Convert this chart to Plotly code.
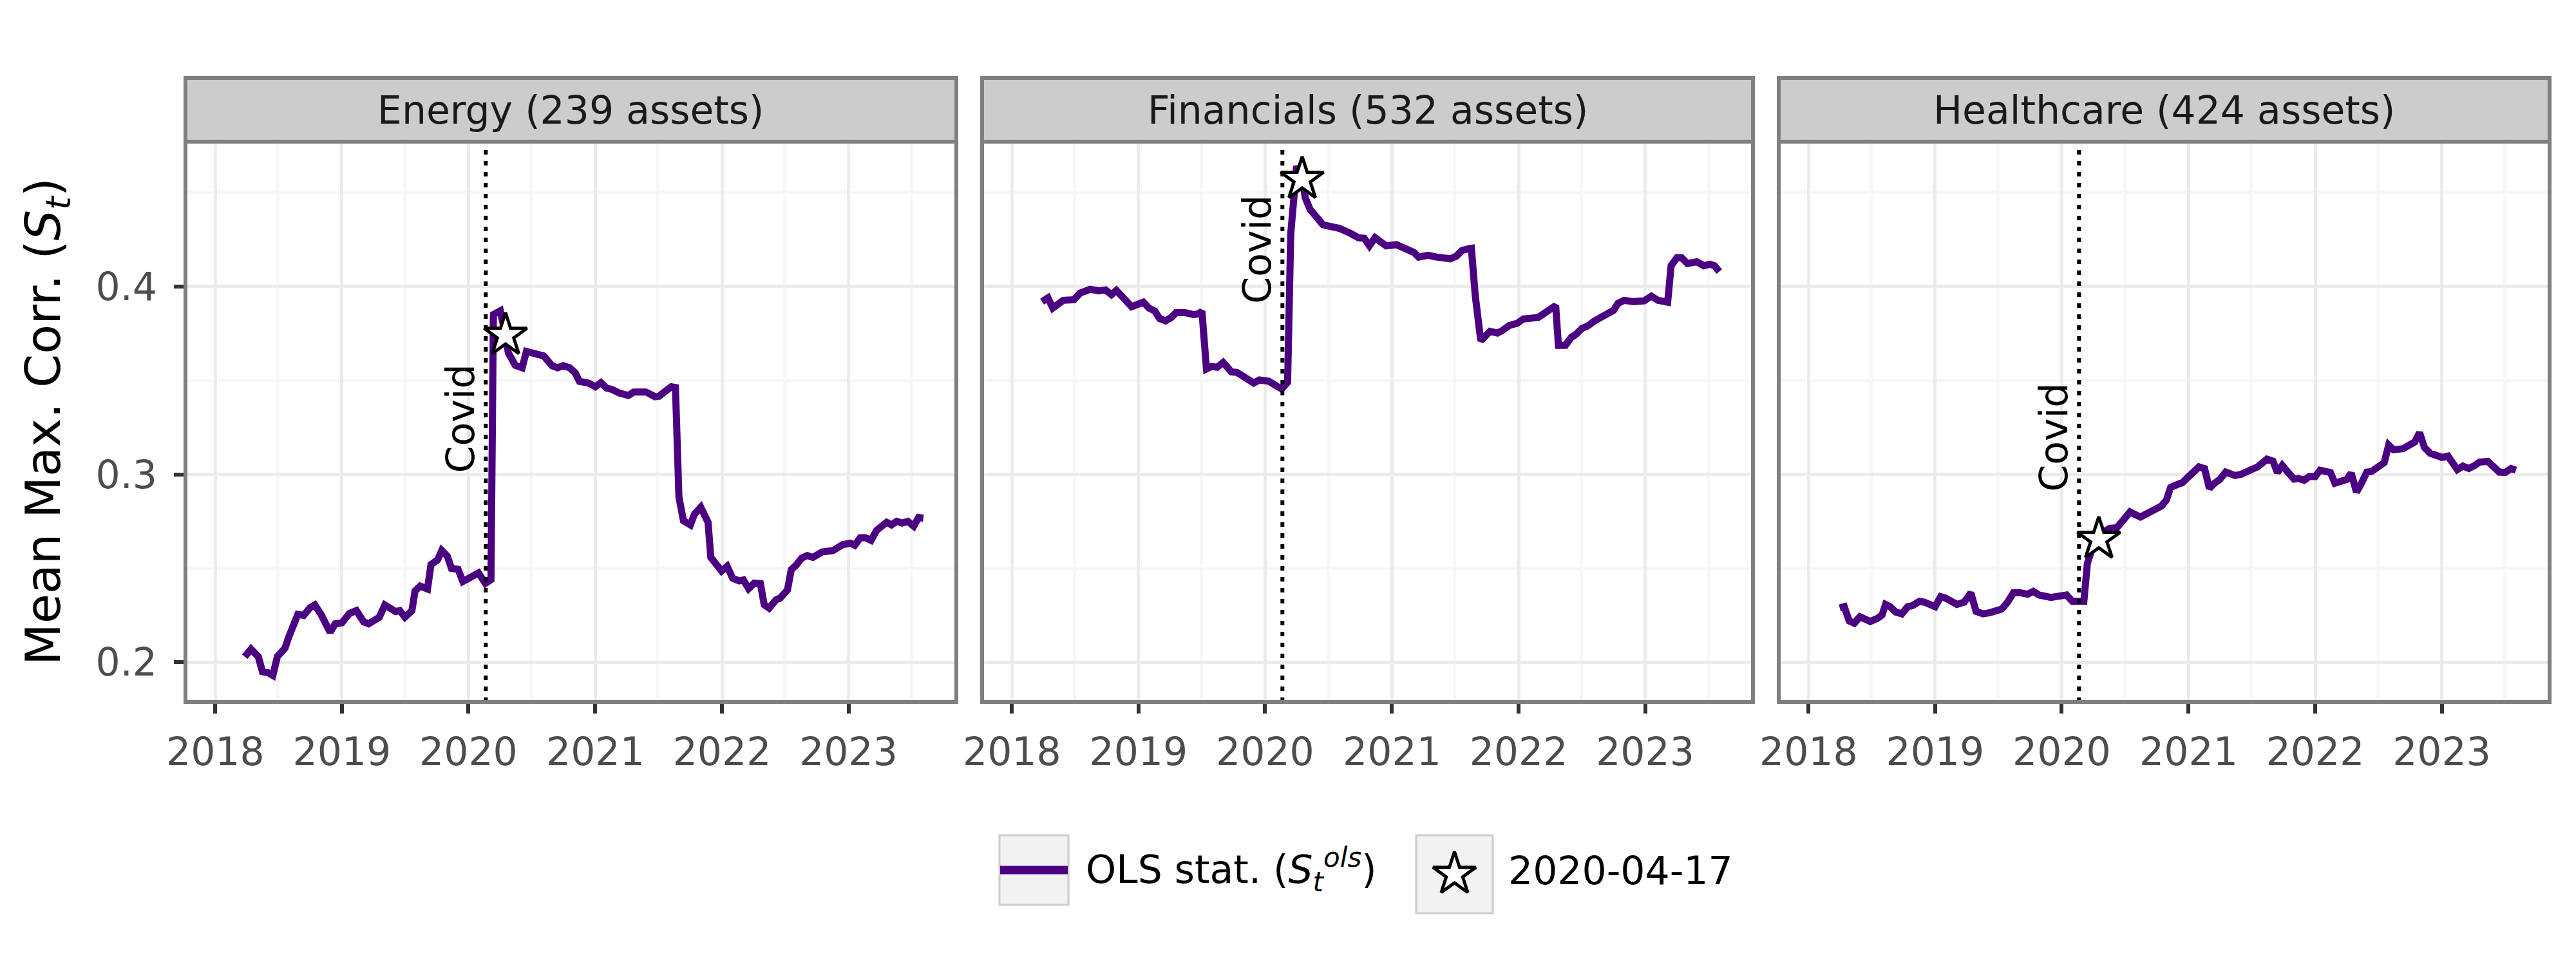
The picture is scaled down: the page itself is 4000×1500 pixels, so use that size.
import plotly.graph_objects as go

# ---------------- data ----------------
energy_dates = ["2018-03-27","2018-04-14","2018-05-05","2018-05-17","2018-06-02","2018-06-16","2018-06-29","2018-07-09","2018-07-21","2018-07-31",
"2018-08-27","2018-09-13","2018-10-01","2018-10-15","2018-11-02","2018-11-28","2018-12-13","2019-01-01","2019-01-23","2019-02-12",
"2019-03-05","2019-03-19","2019-04-19","2019-05-05","2019-06-05","2019-06-17","2019-07-02","2019-07-22","2019-07-31","2019-08-15",
"2019-09-05","2019-09-15","2019-10-04","2019-10-16","2019-11-01","2019-11-13","2019-12-02","2019-12-16","2020-01-06","2020-01-30",
"2020-02-19","2020-03-06","2020-03-13","2020-04-02","2020-04-17","2020-04-25","2020-05-15","2020-06-04","2020-06-16","2020-07-05",
"2020-07-25","2020-08-05","2020-08-29","2020-09-14","2020-09-30","2020-10-19","2020-11-04","2020-11-16","2020-12-13","2021-01-01",
"2021-01-17","2021-02-02","2021-02-18","2021-03-10","2021-04-06","2021-04-22","2021-05-11","2021-05-27","2021-06-22","2021-07-04",
"2021-07-24","2021-08-08","2021-08-20","2021-08-30","2021-09-12","2021-10-02","2021-10-14","2021-11-01","2021-11-22","2021-11-30",
"2021-12-31","2022-01-16","2022-02-01","2022-02-20","2022-03-04","2022-03-19","2022-04-04","2022-04-22","2022-05-03","2022-05-17",
"2022-06-06","2022-06-18","2022-07-09","2022-07-20","2022-08-02","2022-08-19","2022-09-04","2022-09-20","2022-10-17","2022-11-05",
"2022-11-17","2022-12-15","2023-01-07","2023-01-19","2023-02-04","2023-02-19","2023-03-07","2023-03-23","2023-04-03","2023-04-21",
"2023-05-05","2023-05-20","2023-06-05","2023-06-21","2023-07-08","2023-07-22","2023-08-05"]
energy_vals = [0.203,0.207,0.203,0.195,0.1945,0.193,0.203,0.205,0.2075,0.213,
0.2255,0.225,0.229,0.2305,0.2255,0.216,0.2205,0.221,0.226,0.2275,
0.2215,0.2205,0.224,0.2305,0.227,0.2275,0.224,0.2275,0.238,0.2405,
0.239,0.252,0.2545,0.2595,0.2565,0.25,0.2495,0.243,0.2455,0.2475,
0.242,0.244,0.385,0.387,0.374,0.3647,0.358,0.3567,0.3654,0.3647,
0.363,0.363,0.3578,0.3567,0.3578,0.3567,0.354,0.3495,0.3485,0.3466,
0.3488,0.3459,0.3452,0.3433,0.342,0.3438,0.3438,0.3438,0.3413,0.3416,
0.3445,0.3466,0.3462,0.288,0.2753,0.2731,0.2789,0.2825,0.2745,0.2558,
0.2486,0.2511,0.2447,0.2433,0.2438,0.2392,0.2421,0.2418,0.2306,0.2288,
0.2332,0.2342,0.2385,0.2493,0.2515,0.2554,0.2568,0.2558,0.2587,0.2594,
0.2594,0.2626,0.2634,0.2623,0.2663,0.2663,0.2649,0.2702,0.2721,0.2745,
0.2731,0.275,0.2741,0.275,0.2724,0.277,0.2767]

fin_dates = ["2018-03-29","2018-04-15","2018-04-29","2018-05-29","2018-06-29","2018-07-16","2018-08-15","2018-09-08","2018-09-28","2018-10-15",
"2018-10-29","2018-11-15","2018-12-12","2019-01-15","2019-01-31","2019-02-17","2019-03-03","2019-03-20","2019-04-06","2019-04-19",
"2019-05-16","2019-06-09","2019-06-23","2019-07-03","2019-07-16","2019-07-30","2019-08-16","2019-09-02","2019-09-26","2019-10-12",
"2019-11-08","2019-11-29","2019-12-16","2020-01-12","2020-02-05","2020-02-18","2020-03-06","2020-03-15","2020-04-01","2020-04-17",
"2020-04-26","2020-05-10","2020-05-27","2020-06-16","2020-07-10","2020-08-02","2020-09-02","2020-09-26","2020-10-13","2020-10-28",
"2020-11-13","2020-11-28","2020-12-15","2021-01-14","2021-01-31","2021-02-17","2021-03-05","2021-03-19","2021-04-15","2021-05-09",
"2021-06-05","2021-06-18","2021-07-05","2021-07-22","2021-08-11","2021-08-18","2021-08-29","2021-09-14","2021-10-11","2021-11-01",
"2021-11-14","2021-12-05","2021-12-28","2022-01-15","2022-02-27","2022-03-16","2022-04-02","2022-04-18","2022-04-26","2022-05-16",
"2022-06-02","2022-06-15","2022-07-03","2022-07-19","2022-08-06","2022-08-22","2022-08-29","2022-09-15","2022-10-02","2022-10-15",
"2022-11-01","2022-11-29","2022-12-29","2023-01-19","2023-02-07","2023-03-07","2023-03-17","2023-04-03","2023-04-16","2023-05-03",
"2023-05-30","2023-06-19","2023-07-07","2023-07-20","2023-08-03"]
fin_vals = [0.3919,0.3939,0.3885,0.3926,0.3929,0.3964,0.3985,0.3976,0.3981,0.3956,
0.3979,0.3941,0.3892,0.3916,0.3885,0.3869,0.3829,0.3817,0.3835,0.386,
0.386,0.385,0.3854,0.3867,0.3561,0.3574,0.357,0.3595,0.3545,0.3542,
0.3511,0.3486,0.3502,0.3495,0.3468,0.3455,0.349,0.4278,0.464,0.457,
0.4471,0.4409,0.4372,0.4328,0.4318,0.4309,0.4284,0.4259,0.4256,0.4216,
0.4259,0.4243,0.4216,0.4222,0.4206,0.4187,0.4181,0.4156,0.4166,0.4156,
0.4153,0.4147,0.416,0.4191,0.4201,0.4203,0.3954,0.3711,0.3761,0.3752,
0.3764,0.3792,0.3804,0.3827,0.3835,0.386,0.3873,0.3898,0.3686,0.3686,
0.3729,0.3744,0.3777,0.3789,0.3814,0.3829,0.3842,0.3854,0.3873,0.391,
0.3926,0.3919,0.3923,0.3948,0.3926,0.3916,0.411,0.4153,0.4153,0.4122,
0.4131,0.411,0.4118,0.411,0.4079]

health_dates = ["2018-04-01","2018-04-14","2018-04-28","2018-05-13","2018-05-29","2018-06-28","2018-07-18","2018-08-01","2018-08-11","2018-08-24",
"2018-09-10","2018-09-27","2018-10-14","2018-10-28","2018-11-17","2018-12-01","2019-01-01","2019-01-17","2019-01-31","2019-02-16",
"2019-03-05","2019-03-26","2019-04-14","2019-04-29","2019-05-19","2019-06-08","2019-06-29","2019-07-12","2019-07-29","2019-08-15",
"2019-09-04","2019-09-25","2019-10-11","2019-10-28","2019-12-01","2019-12-28","2020-01-15","2020-02-01","2020-02-18","2020-03-05",
"2020-03-15","2020-03-29","2020-04-17","2020-05-05","2020-05-19","2020-06-08","2020-06-25","2020-07-16","2020-08-15","2020-09-08",
"2020-09-25","2020-10-15","2020-10-29","2020-11-10","2020-11-27","2020-12-14","2021-01-01","2021-01-31","2021-02-16","2021-03-02",
"2021-03-15","2021-04-01","2021-04-18","2021-05-15","2021-06-01","2021-06-18","2021-07-02","2021-07-19","2021-08-15","2021-09-01",
"2021-09-14","2021-09-28","2021-10-15","2021-11-01","2021-11-14","2021-11-30","2021-12-15","2022-01-01","2022-01-15","2022-02-01",
"2022-02-14","2022-02-27","2022-03-19","2022-04-02","2022-04-15","2022-04-30","2022-05-12","2022-05-30","2022-06-12","2022-06-29",
"2022-07-19","2022-08-01","2022-08-15","2022-09-12","2022-09-25","2022-10-15","2022-10-29","2022-11-12","2022-11-29","2022-12-16",
"2023-01-02","2023-01-19","2023-02-01","2023-02-15","2023-03-03","2023-03-20","2023-04-06","2023-04-20","2023-05-14","2023-06-03",
"2023-06-16","2023-07-03","2023-07-20","2023-08-03"]
health_vals = [0.2289,0.2296,0.2221,0.2208,0.2242,0.2217,0.2233,0.2252,0.2308,0.2296,
0.2267,0.2258,0.2296,0.2302,0.2324,0.232,0.2296,0.2349,0.2342,0.232,
0.2308,0.232,0.237,0.2271,0.2258,0.2264,0.2271,0.2283,0.232,0.237,
0.237,0.2362,0.2377,0.2358,0.2345,0.2349,0.2358,0.2324,0.232,0.2324,
0.2526,0.2607,0.2655,0.2698,0.2713,0.2716,0.2753,0.28,0.2773,0.2798,
0.2815,0.2832,0.2863,0.293,0.2944,0.2956,0.2988,0.304,0.3031,0.2925,
0.295,0.2973,0.3012,0.2994,0.3,0.3015,0.3022,0.304,0.3081,0.3071,
0.301,0.3047,0.301,0.2975,0.2978,0.2969,0.2988,0.2988,0.3022,0.3012,
0.301,0.2953,0.2963,0.2973,0.3006,0.2906,0.2944,0.3012,0.3015,0.3037,
0.3062,0.3156,0.3131,0.3137,0.3152,0.3172,0.3222,0.3143,0.3112,0.31,
0.309,0.3097,0.306,0.3025,0.3044,0.3031,0.3047,0.3065,0.3069,0.3035,
0.3012,0.301,0.3031,0.3022]

panel_titles = ["Energy (239 assets)", "Financials (532 assets)", "Healthcare (424 assets)"]
covid_date = "2020-02-20"
covid_label = "Covid"
covid_label_y = [0.300, 0.390, 0.290]
star_date = "2020-04-17"
x_tick_vals = ["2018-01-01", "2019-01-01", "2020-01-01", "2021-01-01", "2022-01-01", "2023-01-01"]
x_tick_text = ["2018", "2019", "2020", "2021", "2022", "2023"]
x_minor_vals = ["2018-07-01", "2019-07-01", "2020-07-01", "2021-07-01", "2022-07-01", "2023-07-01"]
y_tick_vals = [0.2, 0.3, 0.4]
y_tick_text = ["0.2", "0.3", "0.4"]
y_minor_vals = [0.25, 0.35, 0.45]
legend_labels = ["OLS stat. (<i>S</i><sub><i>t</i></sub><sup><i>ols</i></sup>)", "2020-04-17"]
y_title = "Mean Max. Corr. (<i>S</i><sub><i>t</i></sub>)"

series = [(energy_dates, energy_vals), (fin_dates, fin_vals), (health_dates, health_vals)]
for d, v in series:
    assert len(d) == len(v)

# ---------------- styling ----------------
W, H = 4000, 1500
FONT = "DejaVu Sans"
PURPLE = "#4B0082"
BORDER = "#7F7F7F"
x_range = ["2017-10-07", "2023-11-08"]
y_range = [0.1789, 0.4770]
panel_px = [(288, 1485), (1525, 2722), (2762, 3959)]
plot_top_px, plot_bot_px = 220, 1090
strip_top_px = 121
STAR = dict(symbol="star", size=50, color="white", line=dict(color="black", width=5))


def px_x(p):
    return p / W


def px_y(p):
    return 1 - p / H


fig = go.Figure()
shapes = []
annotations = []

for i, ((dates, vals), title) in enumerate(zip(series, panel_titles)):
    n = "" if i == 0 else str(i + 1)
    xa, ya = "x" + n, "y" + n
    fig.add_trace(go.Scatter(x=dates, y=vals, mode="lines", xaxis=xa, yaxis=ya,
                             line=dict(color=PURPLE, width=11), showlegend=False,
                             hoverinfo="skip"))
    sv = vals[dates.index(star_date)]
    fig.add_trace(go.Scatter(x=[star_date], y=[sv], mode="markers", xaxis=xa, yaxis=ya,
                             marker=STAR, showlegend=False, hoverinfo="skip"))
    x0, x1 = panel_px[i]
    fig.update_layout(**{
        "xaxis" + n: dict(
            domain=[px_x(x0), px_x(x1)], anchor=ya, type="date", range=x_range,
            automargin=False,
            tickmode="array", tickvals=x_tick_vals, ticktext=x_tick_text,
            ticks="outside", ticklen=17, tickwidth=6, tickcolor="#333333",
            tickfont=dict(family=FONT, size=60, color="#4D4D4D"),
            ticklabelstandoff=8,
            showgrid=True, gridcolor="#EBEBEB", gridwidth=5,
            minor=dict(tickmode="array", tickvals=x_minor_vals, showgrid=True,
                       gridcolor="#F7F7F7", gridwidth=5, ticks=""),
            showline=False, zeroline=False, fixedrange=True),
        "yaxis" + n: dict(
            domain=[px_y(plot_bot_px), px_y(plot_top_px)], anchor=xa, range=y_range,
            automargin=False,
            tickmode="array", tickvals=y_tick_vals, ticktext=y_tick_text,
            ticks="outside" if i == 0 else "", ticklen=17, tickwidth=6, tickcolor="#333333",
            showticklabels=(i == 0),
            tickfont=dict(family=FONT, size=60, color="#4D4D4D"),
            ticklabelstandoff=14,
            showgrid=True, gridcolor="#EBEBEB", gridwidth=5,
            minor=dict(tickmode="array", tickvals=y_minor_vals, showgrid=True,
                       gridcolor="#F7F7F7", gridwidth=5, ticks=""),
            showline=False, zeroline=False, fixedrange=True),
    })
    # covid dotted line
    shapes.append(dict(type="line", xref=xa, yref=ya + " domain", x0=covid_date, x1=covid_date,
                       y0=0, y1=1, line=dict(color="black", width=6, dash="7px,10px"), layer="above"))
    annotations.append(dict(xref=xa, yref=ya, x=covid_date, y=covid_label_y[i], text=covid_label,
                            textangle=-90, xanchor="right", yanchor="bottom", showarrow=False,
                            xshift=-2, font=dict(family=FONT, size=60, color="black")))
    # panel border
    shapes.append(dict(type="rect", xref=xa + " domain", yref=ya + " domain", x0=0, x1=1, y0=0, y1=1,
                       line=dict(color=BORDER, width=6), fillcolor="rgba(0,0,0,0)", layer="above"))
    # strip
    shapes.append(dict(type="rect", xref=xa + " domain", yref="paper", x0=0, x1=1,
                       y0=px_y(plot_top_px), y1=px_y(strip_top_px),
                       line=dict(color=BORDER, width=6), fillcolor="#CCCCCC", layer="above"))
    annotations.append(dict(xref=xa + " domain", yref="paper", x=0.5,
                            y=(px_y(plot_top_px) + px_y(strip_top_px)) / 2, text=title,
                            showarrow=False, xanchor="center", yanchor="middle",
                            font=dict(family=FONT, size=60, color="#1A1A1A")))

for k in (2, 3):
    fig.update_layout(**{"yaxis" + str(k): dict(matches="y")})

# y-axis title
annotations.append(dict(xref="paper", yref="paper", x=px_x(72), y=px_y((plot_top_px + plot_bot_px) / 2),
                        text=y_title, textangle=-90, showarrow=False, xanchor="center", yanchor="middle",
                        font=dict(family=FONT, size=75, color="black")))

# ---------------- legend (manual) ----------------
box1 = (1552, 1297, 1659, 1405)
box2 = (2199, 1297, 2318, 1418)
for b in (box1, box2):
    shapes.append(dict(type="rect", xref="paper", yref="paper",
                       x0=px_x(b[0]), x1=px_x(b[2]), y0=px_y(b[3]), y1=px_y(b[1]),
                       line=dict(color="#CCCCCC", width=3), fillcolor="#F2F2F2", layer="below"))
shapes.append(dict(type="line", xref="paper", yref="paper", x0=px_x(box1[0] + 1), x1=px_x(box1[2] - 1),
                   y0=px_y(1351), y1=px_y(1351), line=dict(color=PURPLE, width=13), layer="above"))
annotations.append(dict(xref="paper", yref="paper", x=px_x(1684), y=px_y(1350), text=legend_labels[0],
                        showarrow=False, xanchor="left", yanchor="middle",
                        font=dict(family=FONT, size=60, color="black")))
annotations.append(dict(xref="paper", yref="paper", x=px_x(2340), y=px_y(1352), text=legend_labels[1],
                        showarrow=False, xanchor="left", yanchor="middle",
                        font=dict(family=FONT, size=60, color="black")))
# legend star key on an invisible full-figure overlay axis
fig.add_trace(go.Scatter(x=[(box2[0] + box2[2]) / 2], y=[(box2[1] + box2[3]) / 2], mode="markers",
                         xaxis="x4", yaxis="y4", marker=STAR,
                         showlegend=False, hoverinfo="skip"))
fig.update_layout(
    xaxis4=dict(domain=[0, 1], range=[0, W], visible=False, anchor="y4", fixedrange=True,
                showgrid=False, zeroline=False, automargin=False),
    yaxis4=dict(domain=[0, 1], range=[H, 0], visible=False, anchor="x4", fixedrange=True,
                showgrid=False, zeroline=False, automargin=False),
)

fig.update_layout(
    width=W, height=H, margin=dict(l=0, r=0, t=0, b=0, autoexpand=False),
    paper_bgcolor="white", plot_bgcolor="rgba(0,0,0,0)",
    font=dict(family=FONT, color="black"),
    shapes=shapes, annotations=annotations, showlegend=False,
)

fig.write_html("out.html", config={"displayModeBar": False, "staticPlot": True},
               post_script="document.body.style.margin='0';document.body.style.overflow='hidden';")
